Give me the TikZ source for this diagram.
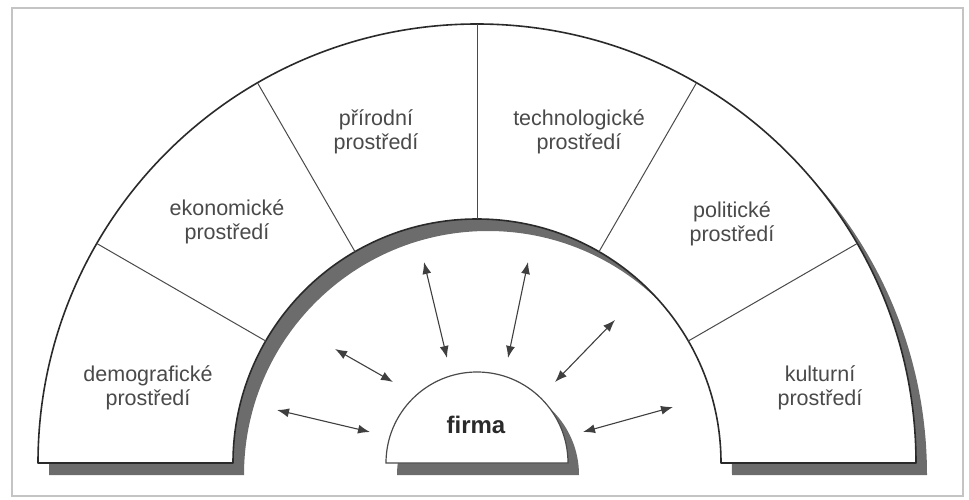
\documentclass[tikz,border=0pt]{standalone}
\usepackage{fontspec}
\setmainfont{Liberation Sans}
\usetikzlibrary{arrows.meta}
\definecolor{shadowgray}{HTML}{6C6C6C}
\definecolor{ink}{HTML}{2A2A2A}
\definecolor{txt}{HTML}{4A4A4A}
\definecolor{framegray}{HTML}{C4C4C4}
\begin{document}
\begin{tikzpicture}[x=1pt,y=1pt,
  ring/.style={draw=ink,line width=1.6pt,fill=white,line join=round},
  ringshadow/.style={fill=shadowgray},
  divider/.style={draw=txt,line width=1pt},
  label/.style={align=center,text=txt,font=\fontsize{21.5}{24}\selectfont,inner sep=0pt},
  firmlabel/.style={text=ink,font=\fontsize{24}{28}\selectfont\bfseries,inner sep=0pt},
  link/.style={<->,>={Latex[length=12pt,width=9pt]},draw=ink!90,line width=1.1pt}]
\useasboundingbox (0,0) rectangle (969,499);
\draw[framegray,line width=1.6pt] (12,3) rectangle (963,491);

\coordinate (c) at (477,36);
\coordinate (cs) at (488,24);

% shadows
\path[ringshadow] (cs) ++(439,0) arc[start angle=0,end angle=180,radius=439]
  -- ++(195,0) arc[start angle=180,end angle=0,radius=244] -- cycle;
\path[ringshadow] (cs) ++(91,0) arc[start angle=0,end angle=180,radius=91] -- cycle;

% outer ring of surroundings
\draw[ring] (c) ++(439,0) arc[start angle=0,end angle=180,radius=439]
  -- ++(195,0) arc[start angle=180,end angle=0,radius=244] -- cycle;

% sector borders
\foreach \a in {30,60,90,120,150}
  \draw[divider] ([shift={(\a:244)}]c) -- ([shift={(\a:439)}]c);

% firm
\draw[draw=ink!85,line width=1.2pt,fill=white] (c) ++(91,0) arc[start angle=0,end angle=180,radius=91] -- cycle;
\node[firmlabel] (firma) at (476,74) {firma};

% sector labels
\node[label] (demo) at (148,111) {demografické\\prostředí};
\node[label] (eko)  at (227,277) {ekonomické\\prostředí};
\node[label] (prir) at (376,367) {přírodní\\prostředí};
\node[label] (tech) at (579,367) {technologické\\prostředí};
\node[label] (pol)  at (732,275) {politické\\prostředí};
\node[label] (kult) at (820,111) {kulturní\\prostředí};

% interaction arrows
\coordinate (o1) at (277,89);  \coordinate (i1) at (370,67);
\coordinate (o2) at (335,150); \coordinate (i2) at (393,117);
\coordinate (o3) at (424,237); \coordinate (i3) at (447,141);
\coordinate (o4) at (528,237); \coordinate (i4) at (508,141);
\coordinate (o5) at (615,179); \coordinate (i5) at (555,117);
\coordinate (o6) at (673,92);  \coordinate (i6) at (583,67);
\foreach \k in {1,...,6}
  \draw[link] (o\k) -- (i\k);
\end{tikzpicture}
\end{document}
